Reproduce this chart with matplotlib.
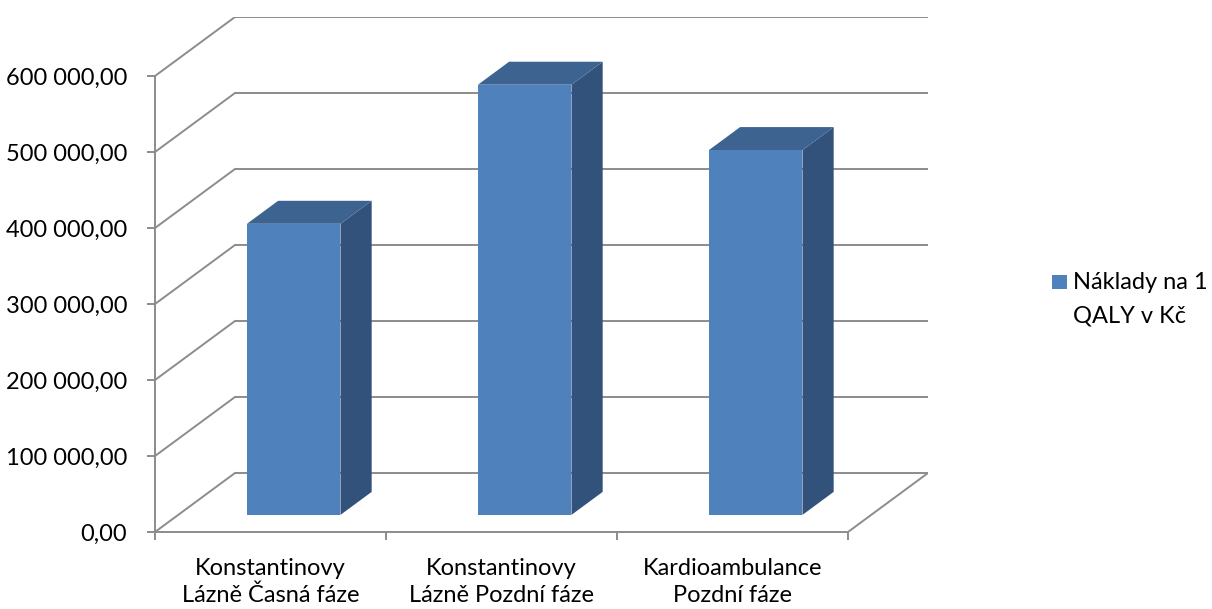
import matplotlib
matplotlib.use("Agg")
import matplotlib.pyplot as plt
from matplotlib.patches import Polygon, Rectangle
from matplotlib.ticker import FuncFormatter

# ---- data ----
categories = ["Konstantinovy\nLázně Časná fáze",
              "Konstantinovy\nLázně Pozdní fáze",
              "Kardioambulance\nPozdní fáze"]
values = [383000, 566000, 480000]
series_label = "Náklady na 1\nQALY v Kč"
y_ticks = [0, 100000, 200000, 300000, 400000, 500000, 600000]

# ---- style ----
plt.rcParams['font.family'] = ['Lato', 'DejaVu Sans']
FS = 17
FRONT = '#4F81BD'
TOP = '#3D6491'
SIDE = '#32527B'
GRID = '#8C8C8C'

W, H = 1212, 609
fig = plt.figure(figsize=(W / 100, H / 100), dpi=100)

# plot region in pixels
px_left, px_right, px_bottom, px_top = 155, 928, 532, 17
ax = fig.add_axes([px_left / W, (H - px_bottom) / H,
                   (px_right - px_left) / W, (px_bottom - px_top) / H])

n = len(categories)
px_per_cat = 231.0
px_per_unit = 76.0 / 100000
DX = 80 / px_per_cat          # depth offset in category units
DY = 59 / px_per_unit         # depth offset in value units
ymax = y_ticks[-1]
ax.set_xlim(0, n + DX)
ax.set_ylim(0, ymax + DY)

for s in ['top', 'right']:
    ax.spines[s].set_visible(False)
for s in ['left', 'bottom']:
    ax.spines[s].set_color(GRID)
    ax.spines[s].set_linewidth(1.4)
ax.spines['left'].set_bounds(0, ymax)
ax.spines['bottom'].set_bounds(0, n)

# back wall gridlines and side wall diagonals
for v in y_ticks:
    ax.plot([DX, n + DX], [v + DY, v + DY], color=GRID, lw=1.4, zorder=1,
            solid_capstyle='butt')
    ax.plot([0, DX], [v, v + DY], color=GRID, lw=1.4, zorder=1)
# floor right edge
ax.plot([n, n + DX], [0, DY], color=GRID, lw=1.4, zorder=1)

# bars
bw = 0.405
f0 = 0.29      # depth of front face (fraction)
dd = 0.39      # bar depth (fraction)
centers = [i + 0.5 for i in range(n)]
xs = [c + f0 * DX for c in centers]
bars = ax.bar(xs, values, width=bw, bottom=f0 * DY, color=FRONT,
              linewidth=0, zorder=4, label=series_label)
for x, v in zip(xs, values):
    x0, x1 = x - bw / 2, x + bw / 2
    y0, y1 = f0 * DY, f0 * DY + v
    ox, oy = dd * DX, dd * DY
    side = Polygon([(x1, y0), (x1 + ox, y0 + oy), (x1 + ox, y1 + oy), (x1, y1)],
                   closed=True, facecolor=SIDE, edgecolor='none', zorder=3)
    top = Polygon([(x0, y1), (x0 + ox, y1 + oy), (x1 + ox, y1 + oy), (x1, y1)],
                  closed=True, facecolor=TOP, edgecolor='none', zorder=3)
    ax.add_patch(side)
    ax.add_patch(top)

# ticks
ax.set_yticks(y_ticks)
ax.yaxis.set_major_formatter(FuncFormatter(
    lambda v, p: f"{v:,.2f}".replace(",", " ").replace(".", ",")))
ax.tick_params(axis='y', length=6, width=1.4, color=GRID, pad=14,
               labelsize=FS, labelcolor='black')
ax.set_xticks(range(n + 1))
ax.set_xticklabels([])
ax.tick_params(axis='x', which='major', length=6, width=1.4, color=GRID)
ax.set_xticks(centers, minor=True)
ax.set_xticklabels(categories, minor=True, fontsize=FS, linespacing=1.32)
ax.tick_params(axis='x', which='minor', length=0, pad=19, labelcolor='black')

# legend (square aligned with the first line, as in the reference)
fig.patches.append(Rectangle((1052 / W, 1 - 289 / H), 15 / W, 14 / H,
                             transform=fig.transFigure, facecolor=FRONT,
                             edgecolor='none'))
for k, line in enumerate(series_label.split("\n")):
    fig.text(1073 / W, 1 - (289 + 34 * k) / H, line, fontsize=FS,
             ha='left', va='baseline', color='black')

fig.savefig("out.png", dpi=100)
